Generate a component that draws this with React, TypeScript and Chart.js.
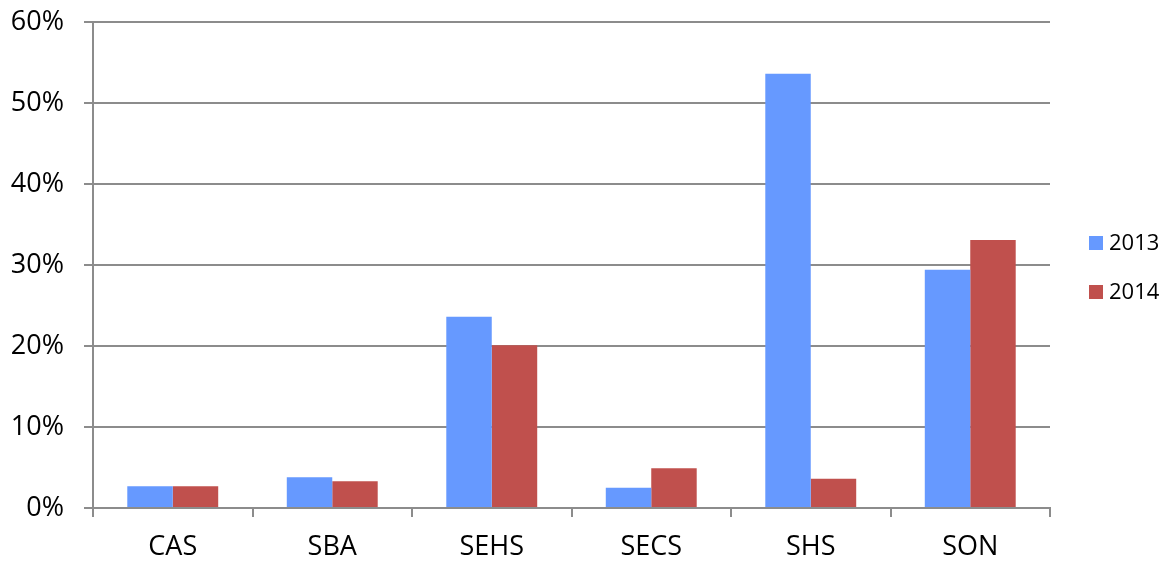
import React, { useEffect, useRef } from "react";
import { Chart, registerables } from "chart.js";

Chart.register(...registerables);

const categories = ["CAS", "SBA", "SEHS", "SECS", "SHS", "SON"];
const seriesNames = ["2013", "2014"];
const values2013 = [2.7, 3.8, 23.6, 2.5, 53.6, 29.4];
const values2014 = [2.7, 3.3, 20.1, 4.9, 3.6, 33.1];
const colors = ["#6699FF", "#C0504D"];
const yTicks = [0, 10, 20, 30, 40, 50, 60];

const FONT = "'Open Sans', 'Noto Sans', sans-serif";

const legendPlugin = {
  id: "customLegend",
  afterDraw(chart: any) {
    const ctx = chart.ctx;
    const ds = chart.data.datasets;
    ctx.save();
    ctx.font = `22px ${FONT}`;
    ctx.textBaseline = "middle";
    ctx.textAlign = "left";
    const startY = 243;
    const gap = 49;
    ds.forEach((d: any, i: number) => {
      const y = startY + i * gap;
      ctx.fillStyle = d.backgroundColor;
      ctx.fillRect(1089, y - 7, 14, 14);
      ctx.fillStyle = "#000";
      ctx.fillText(d.label, 1109, y + 1);
    });
    ctx.restore();
  },
};

export default function App() {
  const ref = useRef<HTMLCanvasElement>(null);
  useEffect(() => {
    if (!ref.current) return;
    const chart = new Chart(ref.current, {
      type: "bar",
      data: {
        labels: categories,
        datasets: [
          { label: seriesNames[0], data: values2013, backgroundColor: colors[0] },
          { label: seriesNames[1], data: values2014, backgroundColor: colors[1] },
        ],
      },
      options: {
        responsive: false,
        animation: false,
        maintainAspectRatio: false,
        layout: { padding: { top: 22, right: 115, left: 0, bottom: 0 } },
        datasets: { bar: { categoryPercentage: 0.57, barPercentage: 1.0 } },
        plugins: { legend: { display: false }, tooltip: { enabled: false } },
        scales: {
          x: {
            grid: { display: true, drawOnChartArea: false, drawTicks: true, tickLength: 9, color: "#8c8c8c", lineWidth: 2, offset: true },
            border: { color: "#8c8c8c", width: 2 },
            ticks: { color: "#000", font: { family: FONT, size: 27 }, padding: 14 },
            afterFit: (s: any) => { s.height = 53; s.paddingLeft = 0; s.paddingRight = 0; },
          },
          y: {
            min: 0,
            max: 60,
            afterBuildTicks: (s: any) => { s.ticks = yTicks.map((v) => ({ value: v })); },
            grid: { color: "#8c8c8c", lineWidth: 2, tickLength: 9 },
            border: { color: "#8c8c8c", width: 2 },
            ticks: { color: "#000", font: { family: FONT, size: 27 }, padding: 20, callback: (v: any) => v + "%" },
            afterFit: (s: any) => { s.width = 93; s.paddingTop = 0; s.paddingBottom = 0; },
          },
        },
      },
      plugins: [legendPlugin],
    });
    return () => chart.destroy();
  }, []);
  return (
    <div style={{ position: "fixed", left: 0, top: 0, width: 1165, height: 561, background: "#fff" }}>
      <canvas ref={ref} width={1165} height={561} style={{ width: 1165, height: 561 }} />
    </div>
  );
}
